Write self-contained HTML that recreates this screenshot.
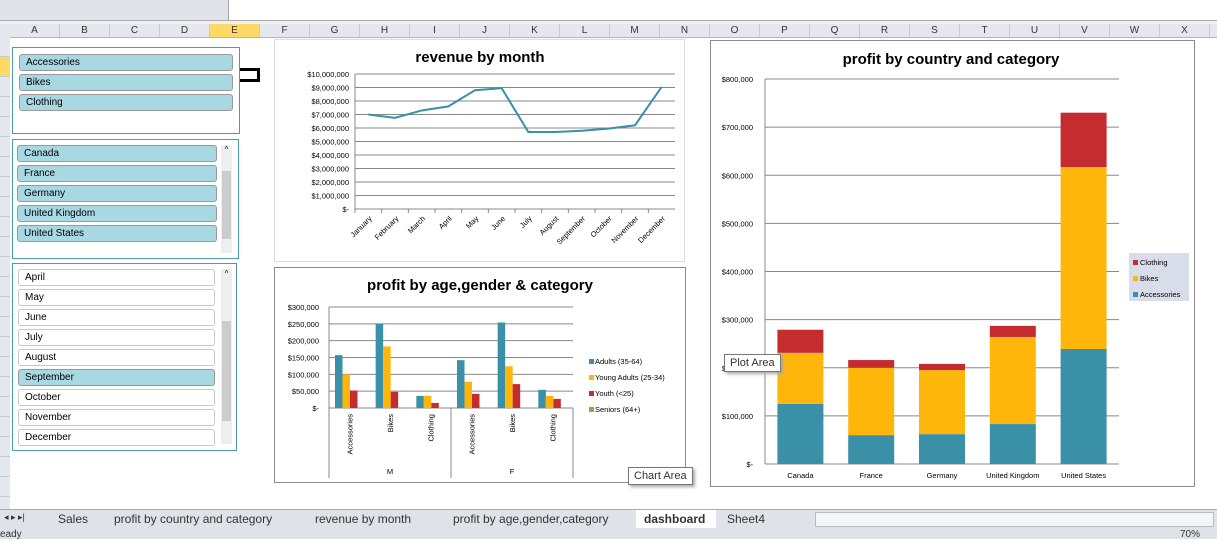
<!DOCTYPE html>
<html><head><meta charset="utf-8">
<style>
body{margin:0;width:1217px;height:539px;overflow:hidden;background:#fff;font-family:"Liberation Sans",sans-serif;position:relative}
.abs{position:absolute}
.col{position:absolute;top:24px;height:13px;width:50px;border-right:1px solid #c5cbd3;font-size:10px;text-align:center;line-height:13px;color:#333;box-sizing:border-box}
.row{position:absolute;left:0;width:10px;height:20px;border-bottom:1px solid #c5cbd3;box-sizing:border-box;background:#e4e8ee}
.slicer{position:absolute;border:1px solid #4b9aad;background:#fff;box-sizing:border-box}
.item{position:absolute;height:17px;border:1px solid #999;border-radius:3px;box-sizing:border-box;font-size:10px;line-height:15px;padding-left:6px;background:#a8d8e2;color:#000}
.item.off{background:#fff;border-color:#c8c8c8}
.sb{position:absolute;width:11px;background:#eee}
.chart{position:absolute;border:1px solid #8c8c8c;background:#fff;box-sizing:border-box}
.tip{position:absolute;background:#fff;border:1px solid #777;font-size:11px;padding:2px 5px;box-shadow:2px 2px 3px #aaa;color:#333}
.tab{position:absolute;top:512px;font-size:12px;color:#333}
</style></head><body>
<div class="abs" style="left:0;top:0;width:228px;height:20px;background:#dfe3e8;border-right:1px solid #aaa"></div>
<div class="abs" style="left:0;top:20px;width:1217px;height:4px;background:#eef0f3;border-top:1px solid #aaa"></div>
<div class="abs" style="left:0;top:24px;width:1217px;height:13px;background:#e4e8ee;border-bottom:1px solid #b0b6be"></div>
<div id="cols"></div>
<div id="rows"></div>

<div class="slicer" style="left:12px;top:47px;width:228px;height:87px">
<div class="item" style="left:6px;top:6px;width:214px">Accessories</div>
<div class="item" style="left:6px;top:26px;width:214px">Bikes</div>
<div class="item" style="left:6px;top:46px;width:214px">Clothing</div>
</div>
<div class="abs" style="left:240px;top:68px;width:20px;height:14px;border:3px solid #000;border-left:none;box-sizing:border-box"></div>
<div class="slicer" style="left:12px;top:139px;width:227px;height:120px">
<div class="item" style="left:4px;top:5px;width:200px">Canada</div>
<div class="item" style="left:4px;top:25px;width:200px">France</div>
<div class="item" style="left:4px;top:45px;width:200px">Germany</div>
<div class="item" style="left:4px;top:65px;width:200px">United Kingdom</div>
<div class="item" style="left:4px;top:85px;width:200px">United States</div>
<div class="sb" style="left:208px;top:5px;height:108px"><div style="position:absolute;top:26px;left:1px;width:9px;height:68px;background:#ccc"></div><div style="font-size:8px;text-align:center">^</div></div>
</div>
<div class="slicer" style="left:12px;top:263px;width:225px;height:188px" id="months">
<div class="sb" style="left:208px;top:5px;height:175px"><div style="position:absolute;top:52px;left:1px;width:9px;height:100px;background:#ccc"></div><div style="font-size:8px;text-align:center">^</div></div>
</div>

<div class="chart" style="left:274px;top:39px;width:411px;height:223px;border-color:#ddd"><svg id="rev" width="411" height="223"></svg></div>
<div class="chart" style="left:274px;top:267px;width:412px;height:216px"><svg id="age" width="412" height="216"></svg></div>
<div class="chart" style="left:710px;top:40px;width:485px;height:447px"><svg id="cty" width="485" height="447"></svg></div>
<div class="tip" style="left:724px;top:354px">Plot Area</div>
<div class="tip" style="left:628px;top:467px">Chart Area</div>

<div class="abs" style="left:0;top:509px;width:1217px;height:19px;background:#dfe3e8;border-top:1px solid #aab"></div>
<div class="tab" style="left:4px;font-size:9px">◂ ▸ ▸|</div>
<div class="tab" style="left:58px">Sales</div>
<div class="tab" style="left:114px">profit by country and category</div>
<div class="tab" style="left:315px">revenue by month</div>
<div class="tab" style="left:453px">profit by age,gender,category</div>
<div class="abs" style="left:636px;top:510px;width:80px;height:18px;background:#fff"></div>
<div class="tab" style="left:644px;font-weight:bold">dashboard</div>
<div class="tab" style="left:727px">Sheet4</div>
<div class="abs" style="left:815px;top:512px;width:397px;height:13px;background:#f4f5f7;border:1px solid #bbb"></div>
<div class="abs" style="left:0;top:529px;width:1217px;height:10px;background:#dfe3e8;font-size:10px;line-height:12px;color:#333">eady<span style="position:absolute;left:1180px">70%</span></div>

<script>
const NS='http://www.w3.org/2000/svg';
function mk(p,t,a,txt){const e=document.createElementNS(NS,t);for(const k in a)e.setAttribute(k,a[k]);if(txt!==undefined)e.textContent=txt;p.appendChild(e);return e;}
// columns/rows
const colLetters=['A','B','C','D','E','F','G','H','I','J','K','L','M','N','O','P','Q','R','S','T','U','V','W','X','Y'];
const cols=document.getElementById('cols');
colLetters.forEach((c,i)=>{const d=document.createElement('div');d.className='col';d.style.left=(10+i*50)+'px';d.textContent=c;if(c==='E'){d.style.background='#ffd966';}


cols.appendChild(d);});
const rows=document.getElementById('rows');
for(let i=0;i<24;i++){const d=document.createElement('div');d.className='row';d.style.top=(37+i*20)+'px';if(i===1)d.style.background='#ffd966';


rows.appendChild(d);}
// months slicer
const monthItems=['April','May','June','July','August','September','October','November','December'];
const ms=document.getElementById('months');
monthItems.forEach((m,i)=>{const d=document.createElement('div');d.className='item'+(m==='September'?'':' off');d.style.left='5px';d.style.top=(5+i*20)+'px';d.style.width='197px';d.textContent=m;


ms.appendChild(d);});

// ---------- revenue chart ----------
const revMonths=['January','February','March','April','May','June','July','August','September','October','November','December'];
const revValues=[7.0,6.75,7.3,7.6,8.8,8.95,5.7,5.7,5.8,5.95,6.2,9.05];
const revTicks=['$-','$1,000,000','$2,000,000','$3,000,000','$4,000,000','$5,000,000','$6,000,000','$7,000,000','$8,000,000','$9,000,000','$10,000,000'];
(function(){
const s=document.getElementById('rev');
mk(s,'text',{x:205,y:22,'text-anchor':'middle','font-size':15,'font-weight':'bold'},'revenue by month');
const x0=80,x1=400,yTop=34,yBot=169;
const y=v=>yBot-(v/10)*(yBot-yTop);
const bw=(x1-x0)/revMonths.length;
revTicks.forEach((t,i)=>{const yy=y(i);mk(s,'line',{x1:x0,x2:x1,y1:yy,y2:yy,stroke:'#888','stroke-width':1});mk(s,'text',{x:x0-6,y:yy+3,'text-anchor':'end','font-size':7.5},t);});
mk(s,'line',{x1:x0,x2:x0,y1:yTop,y2:yBot,stroke:'#888'});
revMonths.forEach((m,i)=>{mk(s,'line',{x1:x0+i*bw,x2:x0+i*bw,y1:yBot,y2:yBot+4,stroke:'#888'});
const cx=x0+(i+0.5)*bw;mk(s,'text',{x:cx+4,y:yBot+10,'text-anchor':'end','font-size':7.5,transform:`rotate(-45 ${cx+4} ${yBot+10})`},m);});
mk(s,'polyline',{points:revValues.map((v,i)=>`${x0+(i+0.5)*bw},${y(v)}`).join(' '),fill:'none',stroke:'#3a90a6','stroke-width':2});
})();

// ---------- age/gender chart ----------
const ageCats=['Accessories','Bikes','Clothing','Accessories','Bikes','Clothing'];
const ageGenders=['M','F'];
const adults=[157,250,36,142,254,54];
const youngAdults=[100,183,36,78,124,36];
const youth=[52,48,15,42,71,27];
const seniors=[0,0,0,0,0,0];
const ageTicks=['$-','$50,000','$100,000','$150,000','$200,000','$250,000','$300,000'];
const ageSeriesNames=['Adults (35-64)','Young Adults (25-34)','Youth (<25)','Seniors (64+)'];
const ageColors=['#3a90a6','#ffb60b','#c42c30','#7ab648'];
(function(){
const s=document.getElementById('age');
mk(s,'text',{x:205,y:22,'text-anchor':'middle','font-size':15,'font-weight':'bold'},'profit by age,gender & category');
const x0=54,x1=298,yTop=39,yBot=140;
const y=v=>yBot-(v/300)*(yBot-yTop);
const gw=(x1-x0)/ageCats.length;
ageTicks.forEach((t,i)=>{const yy=y(i*50);mk(s,'line',{x1:x0,x2:x1,y1:yy,y2:yy,stroke:'#888'});mk(s,'text',{x:x0-10,y:yy+3,'text-anchor':'end','font-size':7.5},t);});
mk(s,'line',{x1:x0,x2:x0,y1:yTop,y2:210,stroke:'#888'});
mk(s,'line',{x1:x0+3*gw,x2:x0+3*gw,y1:yBot,y2:210,stroke:'#888'});
mk(s,'line',{x1:x1,x2:x1,y1:yBot,y2:210,stroke:'#888'});
const series=[adults,youngAdults,youth,seniors];
const bw=7.5;
ageCats.forEach((c,i)=>{const gx=x0+i*gw+6;
series.forEach((arr,k)=>{const v=arr[i];if(v<=0)return;const r=mk(s,'rect',{x:gx+k*bw,y:y(v),width:bw,height:yBot-y(v),fill:ageColors[k]});

});
const cx=x0+(i+0.5)*gw;mk(s,'text',{x:cx+3,y:yBot+6,'text-anchor':'end','font-size':7.5,transform:`rotate(-90 ${cx+3} ${yBot+6})`},c);});
ageGenders.forEach((g,j)=>mk(s,'text',{x:x0+(j*3+1.5)*gw,y:206,'text-anchor':'middle','font-size':7.5},g));
ageSeriesNames.forEach((n,k)=>{const ly=96+k*16;mk(s,'rect',{x:314,y:ly-5,width:5,height:5,fill:ageColors[k]});mk(s,'text',{x:320,y:ly,'font-size':7.5},n);});
})();

// ---------- country chart ----------
const countries=['Canada','France','Germany','United Kingdom','United States'];
const accessories=[125,60,62,83,239];
const bikes=[106,140,133,181,378];
const clothing=[48,16,13,23,113];
const ctyTicks=['$-','$100,000','$200,000','$300,000','$400,000','$500,000','$600,000','$700,000','$800,000'];
(function(){
const s=document.getElementById('cty');
mk(s,'text',{x:240,y:23,'text-anchor':'middle','font-size':15,'font-weight':'bold'},'profit by country and category');
const x0=54,x1=408,yTop=38,yBot=423;
const y=v=>yBot-(v/800)*(yBot-yTop);
ctyTicks.forEach((t,i)=>{const yy=y(i*100);mk(s,'line',{x1:x0,x2:x1,y1:yy,y2:yy,stroke:'#888'});mk(s,'text',{x:x0-12,y:yy+3,'text-anchor':'end','font-size':7.5},t);});
mk(s,'line',{x1:x0,x2:x0,y1:yTop,y2:yBot,stroke:'#888'});
const gw=(x1-x0)/countries.length, bw=46;
const stacks=[[accessories,'#3a90a6'],[bikes,'#ffb60b'],[clothing,'#c42c30']];
countries.forEach((c,i)=>{const bx=x0+(i+0.5)*gw-bw/2;let base=0;
stacks.forEach(([arr,col])=>{const v=arr[i];const r=mk(s,'rect',{x:bx,y:y(base+v),width:bw,height:y(base)-y(base+v),fill:col});


base+=v;});
mk(s,'text',{x:x0+(i+0.5)*gw,y:yBot+14,'text-anchor':'middle','font-size':7.5},c);});
mk(s,'rect',{x:418,y:212,width:60,height:48,fill:'#d9dde9'});
[['Clothing','#c42c30'],['Bikes','#ffb60b'],['Accessories','#3a90a6']].forEach(([n,col],k)=>{const ly=224+k*16;mk(s,'rect',{x:422,y:ly-5,width:5,height:5,fill:col});mk(s,'text',{x:429,y:ly,'font-size':7.5},n);});
})();
</script>
</body></html>
